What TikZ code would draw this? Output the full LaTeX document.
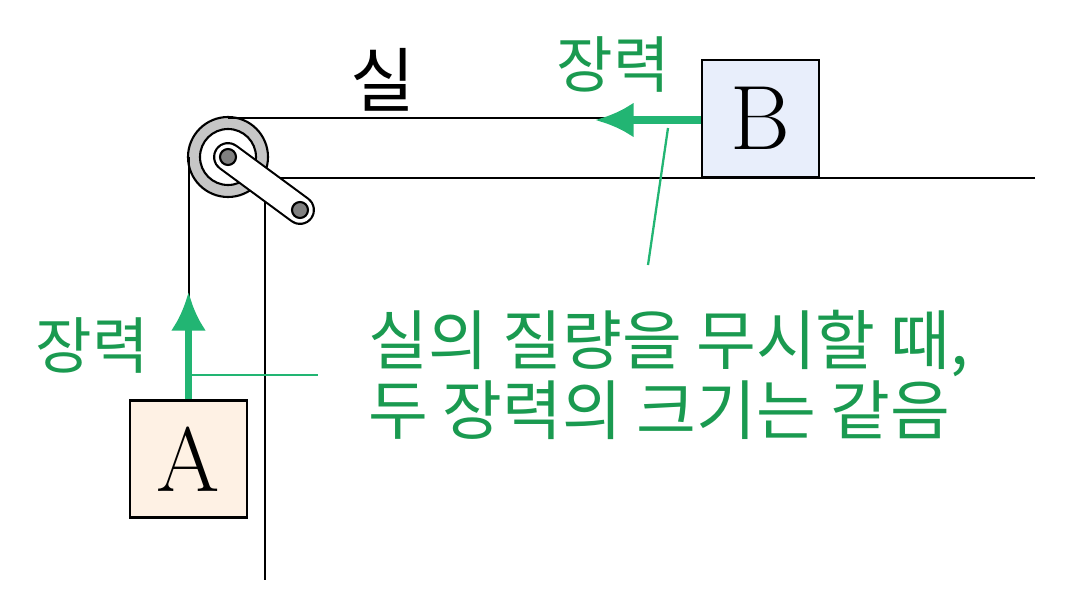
\documentclass[tikz,border=0pt]{standalone}
\usepackage{fontspec}
\newfontfamily\kr{Noto Sans CJK KR}
\usetikzlibrary{arrows.meta}
\definecolor{tgreen}{HTML}{22B573}
\definecolor{tdark}{HTML}{1A9A50}
\definecolor{bblue}{HTML}{E8EEFB}
\definecolor{aorange}{HTML}{FEF1E4}
\begin{document}
\begin{tikzpicture}[x=0.02cm,y=-0.02cm,
  line/.style={draw=black, line width=1.2pt},
  block/.style={draw=black, line width=1.2pt, minimum width=2.34cm, minimum height=2.34cm, inner sep=0pt, font=\fontsize{52}{52}\selectfont},
  force/.style={draw=tgreen, line width=4pt, -{Latex[length=22pt,width=20pt]}},
  pointer/.style={draw=tgreen, line width=1.3pt},
  tlabel/.style={text=tdark, font=\kr\fontsize{35}{36}\selectfont}
]
\useasboundingbox (0,0) rectangle (1077,615);

% table
\coordinate (tl) at (265,178);
\draw[line] (1035,178) -- (tl) -- (265,580);

% blocks
\node[block, fill=bblue, anchor=south west] (B) at (701,178) {B};
\node[block, fill=aorange] (A) at (188.5,459) {A};

% pulley
\coordinate (pc) at (228,157);
\coordinate (pe) at (300,210);
\fill[gray!45] (pc) circle (40);
\draw[line] (pc) circle (40);
\draw[line, fill=white] (pc) circle (28);
\draw[line width=17pt, line cap=round] (pc) -- (pe);
\draw[white, line width=14.6pt, line cap=round] (pc) -- (pe);
\fill[gray] (pc) circle (8); \draw[line] (pc) circle (8);
\fill[gray] (pe) circle (8); \draw[line] (pe) circle (8);

% string
\draw[line] (228,118) -- (B.west |- 0,118);
\draw[line] (189,157) -- (A.north -| 189,0);

% forces
\draw[force] (B.west |- 0,120) -- (595,120);
\draw[force] (A.north) -- (188.5,292);

\node[tlabel] (tb) at (613,65) {장력};
\node[tlabel] (ta) at (92,345) {장력};
\node[font=\kr\fontsize{40}{42}\selectfont] (sil) at (383,80) {실};

% pointers
\coordinate (p1) at (648,265);
\coordinate (p2) at (318,375);
\draw[pointer] (668,128) -- (p1);
\draw[pointer] (188.5,375) -- (p2);

\node[text=tdark, font=\kr\fontsize{37}{40}\selectfont, align=left, anchor=west] (note) at (362,375)
  {실의 질량을 무시할 때,\\두 장력의 크기는 같음};
\end{tikzpicture}
\end{document}
